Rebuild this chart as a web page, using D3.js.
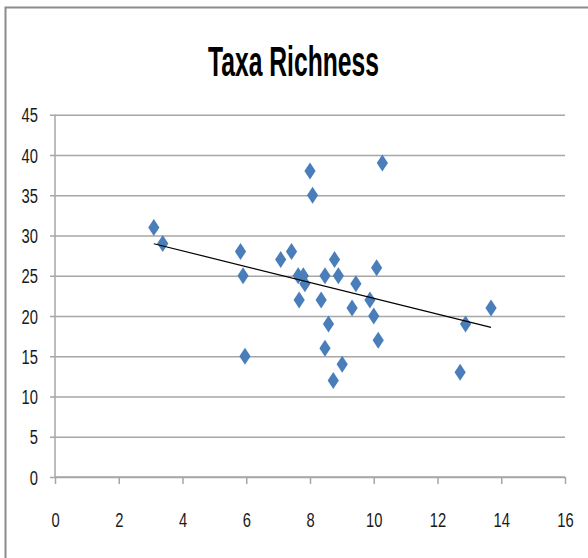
<!DOCTYPE html>
<html>
<head>
<meta charset="utf-8">
<script src="https://cdn.jsdelivr.net/npm/d3@7/dist/d3.min.js"></script>
<style>
  html, body { margin: 0; padding: 0; background: #fff; }
  svg { display: block; }
</style>
</head>
<body>
<svg id="chart" width="588" height="558"></svg>
<script>
// Sample measurements: x value and taxa richness per site
const xValues = [3.1, 3.38, 5.82, 5.9, 5.96, 7.08, 7.42, 7.63, 7.79, 7.84, 7.66,
                 8.0, 8.08, 8.35, 8.47, 8.58, 8.47, 8.77, 8.89, 8.73, 9.01,
                 9.32, 9.44, 9.88, 10.0, 10.09, 10.14, 10.27, 12.71, 12.88, 13.68];
const richness = [31, 29, 28, 25, 15, 27, 28, 25, 25, 24, 22,
                  38, 35, 22, 25, 19, 16, 27, 25, 12, 14,
                  21, 24, 22, 20, 26, 17, 39, 13, 19, 21];
const xTicks = [0, 2, 4, 6, 8, 10, 12, 14, 16];
const yTicks = [0, 5, 10, 15, 20, 25, 30, 35, 40, 45];
const chartTitle = "Taxa Richness";

const points = xValues.map((x, i) => ({ x, y: richness[i] }));

const svg = d3.select("#chart");
const plot = { left: 55, right: 565, top: 114.7, bottom: 477 };

const x = d3.scaleLinear().domain([0, 16]).range([plot.left, plot.right]);
const y = d3.scaleLinear().domain([0, 45]).range([plot.bottom, plot.top]);

// Chart area frame (runs off the right and bottom edges)
svg.append("rect")
  .attr("x", 5.5).attr("y", 7.5)
  .attr("width", 700).attr("height", 700)
  .attr("fill", "none")
  .attr("stroke", "#8c8c8c")
  .attr("stroke-width", 2);

// Title
svg.append("text")
  .attr("x", 293.5).attr("y", 76)
  .attr("text-anchor", "middle")
  .attr("font-family", "Liberation Sans, Arial, sans-serif")
  .attr("font-weight", "bold")
  .attr("font-size", 43)
  .attr("textLength", 171)
  .attr("lengthAdjust", "spacingAndGlyphs")
  .attr("fill", "#000")
  .text(chartTitle);

const labelFont = "Liberation Sans, Arial, sans-serif";
const gridColor = "#a6a6a6";
const charWidth = 8.2;

// Horizontal gridlines with y axis
const yAxis = d3.axisLeft(y).tickValues(yTicks).tickSize(-(plot.right - plot.left)).tickPadding(18)
  .tickFormat(d3.format("d"));
const gy = svg.append("g").attr("transform", `translate(${plot.left},0)`).call(yAxis);
gy.select(".domain").remove();
gy.selectAll(".tick line")
  .attr("x1", -5)
  .attr("stroke", gridColor).attr("stroke-width", 1.5);
gy.selectAll(".tick text")
  .attr("font-family", labelFont).attr("font-size", 20).attr("fill", "#1a1a1a")
  .attr("dy", null).attr("y", 7.2)
  .attr("x", -17)
  .each(function(d) {
    const s = String(d);
    d3.select(this).attr("textLength", s.length * charWidth).attr("lengthAdjust", "spacingAndGlyphs");
  });

// Vertical axis line
svg.append("line")
  .attr("x1", x(0)).attr("x2", x(0))
  .attr("y1", y(45)).attr("y2", y(0))
  .attr("stroke", gridColor).attr("stroke-width", 1.5);

// X axis with ticks below
const xAxis = d3.axisBottom(x).tickValues(xTicks).tickSize(7).tickPadding(0)
  .tickFormat(d3.format("d"));
const gx = svg.append("g").attr("transform", `translate(0,${plot.bottom})`).call(xAxis);
gx.select(".domain").attr("stroke", gridColor).attr("stroke-width", 1.5)
  .attr("d", `M${plot.left},0H${plot.right}`);
gx.selectAll(".tick line").attr("stroke", gridColor).attr("stroke-width", 1.5);
gx.selectAll(".tick text")
  .attr("font-family", labelFont).attr("font-size", 20).attr("fill", "#1a1a1a")
  .attr("dy", null).attr("y", 49.5)
  .each(function(d) {
    const s = String(d);
    d3.select(this).attr("textLength", s.length * charWidth).attr("lengthAdjust", "spacingAndGlyphs");
  });

// Diamond markers
const diamond = "M0,-8.5L5.6,0L0,8.5L-5.6,0Z";
svg.append("g").selectAll("path")
  .data(points)
  .join("path")
  .attr("d", diamond)
  .attr("transform", d => `translate(${x(d.x)},${y(d.y)})`)
  .attr("fill", "#4a7ebb");

// Least-squares linear trendline across the data range
const mx = d3.mean(points, d => d.x);
const my = d3.mean(points, d => d.y);
const slope = d3.sum(points, d => (d.x - mx) * (d.y - my)) / d3.sum(points, d => (d.x - mx) ** 2);
const intercept = my - slope * mx;
const [xmin, xmax] = d3.extent(points, d => d.x);
const trend = [xmin, xmax].map(v => ({ x: v, y: intercept + slope * v }));

svg.append("path")
  .datum(trend)
  .attr("d", d3.line().x(d => x(d.x)).y(d => y(d.y)))
  .attr("fill", "none")
  .attr("stroke", "#000")
  .attr("stroke-width", 1.2);
</script>
</body>
</html>
